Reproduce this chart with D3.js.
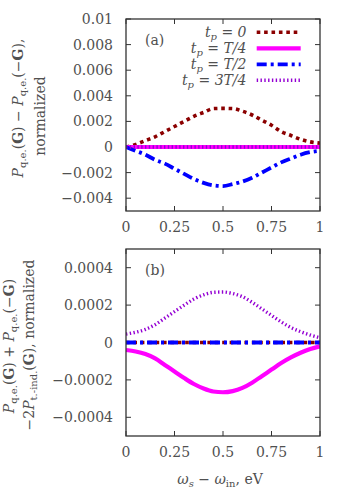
<!DOCTYPE html>
<html>
<head>
<meta charset="utf-8">
<script src="https://cdn.jsdelivr.net/npm/d3@7"></script>
<style>
  body { margin: 0; background: #fff; }
  svg text { fill: #505050; }
</style>
</head>
<body>
<svg id="chart" width="349" height="488" font-family="'DejaVu Serif', 'Liberation Serif', serif"></svg>
<script>
// photon energy difference, eV
const omega = [0, 0.05, 0.1, 0.15, 0.2, 0.25, 0.3, 0.35, 0.4, 0.45, 0.5,
               0.55, 0.6, 0.65, 0.7, 0.75, 0.8, 0.85, 0.9, 0.95, 1];

// panel (a): P(G) - P(-G)
const aT0   = [0, 0.0002, 0.0005, 0.0008, 0.0012, 0.0016, 0.0020, 0.0024, 0.0027, 0.0030, 0.00302,
               0.0030, 0.0028, 0.0025, 0.0021, 0.0017, 0.0012, 0.0009, 0.0006, 0.0004, 0.0003];
const aT1   = [0, 0, 0, 0, 0, 0, 0, 0, 0, 0, 0, 0, 0, 0, 0, 0, 0, 0, 0, 0, 0];
const aT2   = [0, -0.0003, -0.0006, -0.0010, -0.0013, -0.0017, -0.0021, -0.0025, -0.0028, -0.0030, -0.00305,
               -0.0029, -0.0027, -0.0024, -0.0020, -0.0016, -0.0012, -0.0009, -0.0006, -0.0004, -0.0003];
const aT3   = [0, 0, 0, 0, 0, 0, 0, 0, 0, 0, 0, 0, 0, 0, 0, 0, 0, 0, 0, 0, 0];

// panel (b): P(G) + P(-G) - 2 P_t-ind(G)
const bT0   = [0, 0, 0, 0, 0, 0, 0, 0, 0, 0, 0, 0, 0, 0, 0, 0, 0, 0, 0, 0, 0];
const bT1   = [-0.00004, -0.000048, -0.000062, -0.000085, -0.00012, -0.000155, -0.00019, -0.000222, -0.000246, -0.000262, -0.000266,
               -0.00026, -0.000243, -0.000215, -0.00018, -0.000145, -0.00011, -0.00008, -0.000055, -0.000035, -0.00002];
const bT2   = [0, 0, 0, 0, 0, 0, 0, 0, 0, 0, 0, 0, 0, 0, 0, 0, 0, 0, 0, 0, 0];
const bT3   = [0.000045, 0.000055, 0.00007, 0.000095, 0.00013, 0.000165, 0.0002, 0.000232, 0.000255, 0.000268, 0.00027,
               0.000262, 0.000245, 0.000215, 0.00018, 0.000145, 0.00011, 0.00008, 0.000058, 0.00004, 0.000025];

const xTicks = [0, 0.25, 0.5, 0.75, 1];
const xTickLabels = ["0", "0.25", "0.5", "0.75", "1"];
const aTicks = [-0.004, -0.002, 0, 0.002, 0.004, 0.006, 0.008, 0.01];
const aTickLabels = ["\u22120.004", "\u22120.002", "0", "0.002", "0.004", "0.006", "0.008", "0.01"];
const bTicks = [-0.0004, -0.0002, 0, 0.0002, 0.0004];
const bTickLabels = ["\u22120.0004", "\u22120.0002", "0", "0.0002", "0.0004"];

const legendNames = ["0", "T/4", "T/2", "3T/4"];

const styles = [
  {color: "#8b0000", width: 3.6, dash: "3.6,3.8"},
  {color: "#ff00ff", width: 4.2, dash: null},
  {color: "#0000ff", width: 3.8, dash: "10,4,3,4"},
  {color: "#9400d3", width: 3.4, dash: "1.4,2.4"}
];

const fs = 14;      // main font size
const fsSub = 10;   // subscripts

const svg = d3.select("#chart");
const left = 126, right = 320;
const x = d3.scaleLinear().domain([0, 1]).range([left, right]);

function panel(id, top, bottom, domain, ticks, tickLabels, series) {
  const y = d3.scaleLinear().domain(domain).range([bottom, top]);
  const g = svg.append("g");

  g.append("clipPath").attr("id", "clip" + id)
    .append("rect").attr("x", left).attr("y", top)
    .attr("width", right - left).attr("height", bottom - top);

  // inward ticks on all four sides
  const tk = 5;
  xTicks.forEach((v, i) => {
    g.append("line").attr("x1", x(v)).attr("x2", x(v)).attr("y1", bottom).attr("y2", bottom - tk)
      .attr("stroke", "#333");
    g.append("line").attr("x1", x(v)).attr("x2", x(v)).attr("y1", top).attr("y2", top + tk)
      .attr("stroke", "#333");
    g.append("text").attr("x", x(v)).attr("y", bottom + 21).attr("text-anchor", "middle")
      .attr("font-size", fs).text(xTickLabels[i]);
  });
  ticks.forEach((v, i) => {
    g.append("line").attr("x1", left).attr("x2", left + tk).attr("y1", y(v)).attr("y2", y(v))
      .attr("stroke", "#333");
    g.append("line").attr("x1", right).attr("x2", right - tk).attr("y1", y(v)).attr("y2", y(v))
      .attr("stroke", "#333");
    g.append("text").attr("x", 113).attr("y", y(v) + 5).attr("text-anchor", "end")
      .attr("font-size", fs).text(tickLabels[i]);
  });

  const line = d3.line().x((d, i) => x(omega[i])).y(d => y(d)).curve(d3.curveMonotoneX);
  const lg = g.append("g").attr("clip-path", `url(#clip${id})`);
  series.forEach((s, k) => {
    lg.append("path").attr("d", line(s))
      .attr("fill", "none")
      .attr("stroke", styles[k].color)
      .attr("stroke-width", styles[k].width)
      .attr("stroke-dasharray", styles[k].dash);
  });

  g.append("rect").attr("x", left).attr("y", top)
    .attr("width", right - left).attr("height", bottom - top)
    .attr("fill", "none").attr("stroke", "#333").attr("stroke-width", 1.3);

  g.append("text").attr("x", 145).attr("y", top + 26).attr("font-size", fs)
    .text(id === "a" ? "(a)" : "(b)");
  return g;
}

panel("a", 19, 211, [-0.005, 0.01], aTicks, aTickLabels, [aT0, aT1, aT2, aT3]);
panel("b", 249, 436, [-0.0005, 0.0005], bTicks, bTickLabels, [bT0, bT1, bT2, bT3]);

// legend in panel (a)
legendNames.forEach((name, k) => {
  const ly = 32.3 + k * 16;
  const t = svg.append("text").attr("x", 246.5).attr("y", ly + 5).attr("text-anchor", "end")
    .attr("font-size", fs);
  t.append("tspan").attr("font-style", "italic").text("t");
  t.append("tspan").attr("font-style", "italic").attr("font-size", fsSub).attr("dy", 3).text("p");
  t.append("tspan").attr("dy", -3).text(" = ");
  t.append("tspan").attr("font-style", "italic").text(name);
  svg.append("line").attr("x1", 256.7).attr("x2", 300.7).attr("y1", ly).attr("y2", ly)
    .attr("stroke", styles[k].color)
    .attr("stroke-width", styles[k].width)
    .attr("stroke-dasharray", styles[k].dash);
});

// helper for labels with italic P and subscripts
function addPart(t, str, opts = {}) {
  const s = t.append("tspan").text(str);
  if (opts.it) s.attr("font-style", "italic");
  if (opts.bold) s.attr("font-weight", "bold");
  if (opts.sub) s.attr("font-size", fsSub);
  if (opts.dy) s.attr("dy", opts.dy);
  return s;
}
function pTerm(t, sub) {
  addPart(t, "P", {it: true});
  addPart(t, sub, {sub: true, dy: 3});
  addPart(t, "(", {dy: -3});
}

// y label (a)
const la1 = svg.append("text").attr("transform", "translate(23,108) rotate(-90)")
  .attr("text-anchor", "middle").attr("font-size", fs);
pTerm(la1, "q.e.");
addPart(la1, "G", {bold: true}); addPart(la1, ") \u2212 ");
pTerm(la1, "q.e.");
addPart(la1, "\u2212"); addPart(la1, "G", {bold: true}); addPart(la1, "),");
svg.append("text").attr("transform", "translate(45,116) rotate(-90)")
  .attr("text-anchor", "middle").attr("font-size", fs).text("normalized");

// y label (b)
const lb1 = svg.append("text").attr("transform", "translate(14,346) rotate(-90)")
  .attr("text-anchor", "middle").attr("font-size", fs);
pTerm(lb1, "q.e.");
addPart(lb1, "G", {bold: true}); addPart(lb1, ") + ");
pTerm(lb1, "q.e.");
addPart(lb1, "\u2212"); addPart(lb1, "G", {bold: true}); addPart(lb1, ")");
const lb2 = svg.append("text").attr("transform", "translate(34,345) rotate(-90)")
  .attr("text-anchor", "middle").attr("font-size", fs);
addPart(lb2, "\u22122");
pTerm(lb2, "t.-ind.");
addPart(lb2, "G", {bold: true}); addPart(lb2, "), normalized");

// x label
const xl = svg.append("text").attr("x", 220).attr("y", 484).attr("text-anchor", "middle")
  .attr("font-size", fs);
addPart(xl, "\u03c9", {it: true});
addPart(xl, "s", {it: true, sub: true, dy: 3});
addPart(xl, " \u2212 ", {dy: -3});
addPart(xl, "\u03c9", {it: true});
addPart(xl, "in", {sub: true, dy: 3});
addPart(xl, ", eV", {dy: -3});
</script>
</body>
</html>
